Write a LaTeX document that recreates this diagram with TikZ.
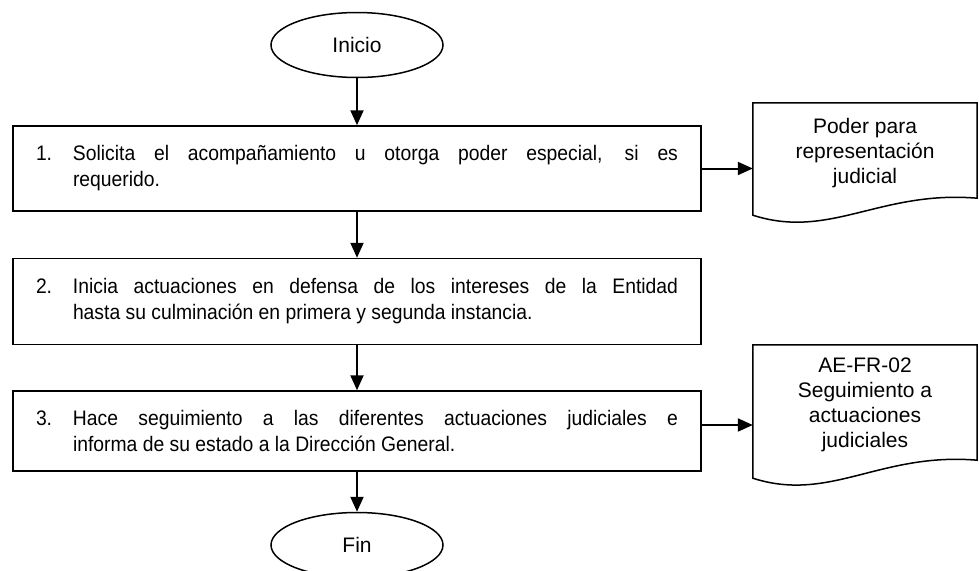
\documentclass[tikz,border=0pt]{standalone}
\usepackage{fontspec}
\setmainfont{Liberation Sans}
\newfontfamily\bodyfont{Liberation Sans}[FakeStretch=0.92]
\usetikzlibrary{shapes.geometric,arrows.meta}

\begin{document}
\begin{tikzpicture}[x=1pt,y=-1pt,
  every node/.style={font=\fontsize{21}{25}\selectfont},
  term/.style={ellipse,draw,line width=1.5pt,minimum width=172,minimum height=65},
  act/.style={rectangle,draw,line width=1.5pt,text width=642pt,inner xsep=23pt,align=justify,
    font=\bodyfont\fontsize{21}{26}\selectfont},
  doc/.style={minimum width=224,align=center,inner sep=0pt},
  arr/.style={line width=2pt,-{Triangle[width=13pt,length=15pt]}}]
\useasboundingbox (0,0) rectangle (979,570);
\node[term] (ini) at (357,45) {Inicio};
\node[act,minimum height=85] (a1) at (357,168.5)
  {\hangindent=37pt\hangafter=1\makebox[37pt][l]{1.}Solicita el acompañamiento u otorga poder especial, si es\linebreak requerido.\par};
\node[act,minimum height=86] (a2) at (357,301.5)
  {\hangindent=37pt\hangafter=1\makebox[37pt][l]{2.}Inicia actuaciones en defensa de los intereses de la Entidad\linebreak hasta su culminación en primera y segunda instancia.\par};
\node[act,minimum height=80] (a3) at (357,431)
  {\hangindent=37pt\hangafter=1\makebox[37pt][l]{3.}Hace seguimiento a las diferentes actuaciones judiciales e\linebreak informa de su estado a la Dirección General.\par};
\node[term] (fin) at (357,545) {Fin};
% documentos
\node[doc,minimum height=100] (d1) at (865,153) {Poder para\\representación\\judicial};
\draw[line width=1.5pt] ([shift={(0,12)}]d1.south west) -- (d1.north west) -- (d1.north east)
  -- ([shift={(0,-5)}]d1.south east) .. controls (880,190) and (830,240) .. ([shift={(0,12)}]d1.south west) -- cycle;
\node[doc,minimum height=120] (d2) at (865,405) {AE-FR-02\\Seguimiento a\\actuaciones\\judiciales};
\draw[line width=1.5pt] ([shift={(0,13)}]d2.south west) -- (d2.north west) -- (d2.north east)
  -- ([shift={(0,-5)}]d2.south east) .. controls (880,452) and (830,503) .. ([shift={(0,13)}]d2.south west) -- cycle;
% flechas
\coordinate (e3) at ([yshift=6pt]a3.east);
\draw[arr] (ini) -- (a1);
\draw[arr] (a1) -- (a2);
\draw[arr] (a2) -- (a3);
\draw[arr] (a3) -- (fin);
\draw[arr] (a1.east) -- (d1.west |- a1.east);
\draw[arr] (e3) -- (d2.west |- e3);
\end{tikzpicture}
\end{document}
